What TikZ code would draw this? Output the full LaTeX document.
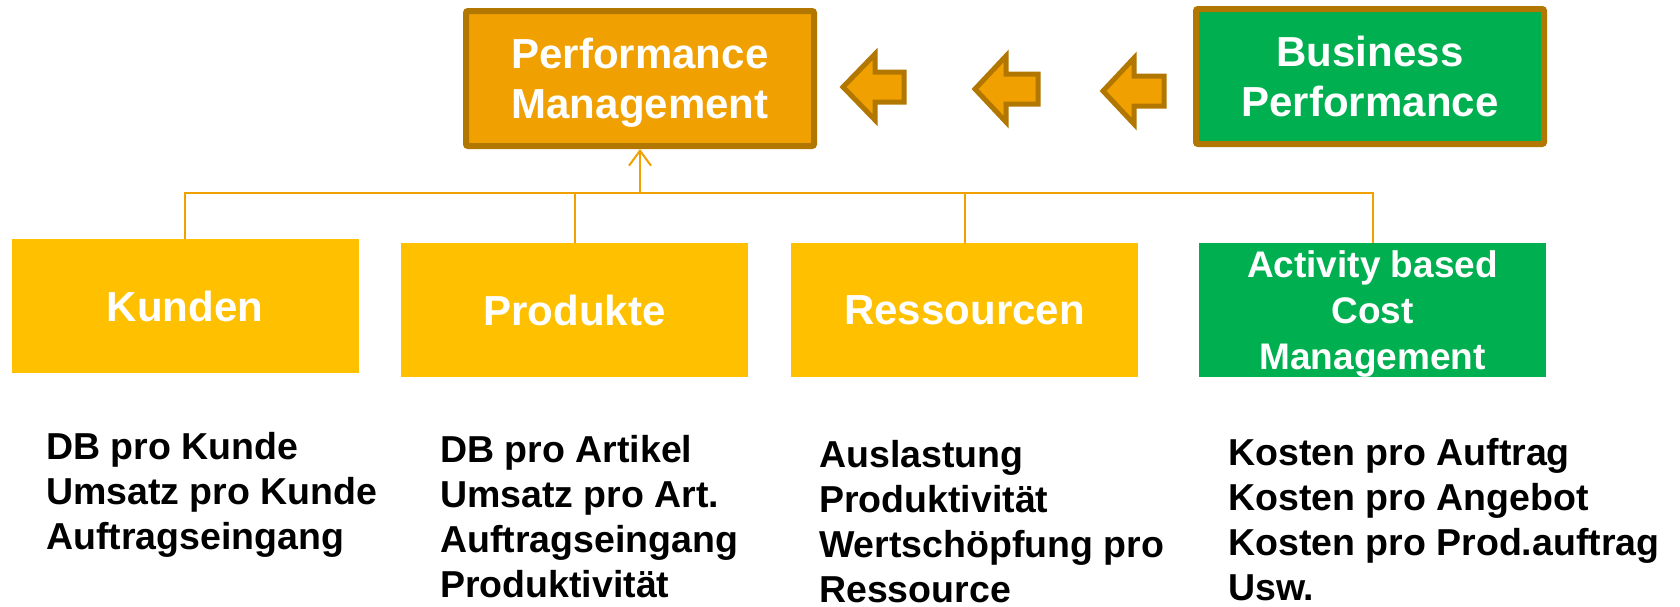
\documentclass[tikz,border=0pt]{standalone}
\usepackage{fontspec}
\setmainfont{Liberation Sans}
\usetikzlibrary{arrows.meta}
\definecolor{pmorange}{RGB}{240,160,0}
\definecolor{pmborder}{RGB}{178,119,0}
\definecolor{boxyellow}{RGB}{255,192,0}
\definecolor{boxgreen}{RGB}{0,176,80}
\tikzset{
  topbox/.style={draw=pmborder, line width=6pt, rounded corners=2pt, minimum width=348pt, minimum height=135pt, inner sep=0pt, text=white, font=\bfseries\fontsize{42}{50}\selectfont, align=center},
  subbox/.style={minimum width=347pt, minimum height=134pt, inner sep=0pt, outer sep=0pt, text=white, align=center},
  conn/.style={draw=pmorange, line width=2pt},
  blockarrow/.style={fill=pmorange, draw=pmborder, line width=5pt, line join=miter},
  kpi/.style={anchor=base west, inner sep=0pt, align=left, text=black, font=\bfseries\fontsize{37.5}{45}\selectfont}
}
\begin{document}
\begin{tikzpicture}[x=1pt,y=-1pt]
\useasboundingbox (0,0) rectangle (1680,606);
% top boxes
\node[topbox, fill=pmorange, text depth=-3pt] (pm) at (640,78.5) {Performance\\Management};
\node[topbox, fill=boxgreen] (bp) at (1370,76.5) {Business\\Performance};
% block arrows
\draw[blockarrow] (843,87) -- (875,54) -- (875,72) -- (904,72) -- (904,102) -- (875,102) -- (875,120) -- cycle;
\draw[blockarrow] (975,89) -- (1006,56) -- (1006,74) -- (1038,74) -- (1038,104) -- (1006,104) -- (1006,122) -- cycle;
\draw[blockarrow] (1103,91) -- (1134,58) -- (1134,76) -- (1164,76) -- (1164,106) -- (1134,106) -- (1134,124) -- cycle;
% sub boxes
\node[subbox, fill=boxyellow, font=\bfseries\fontsize{42}{50}\selectfont] (kunden) at (185,306) {Kunden};
\node[subbox, fill=boxyellow, font=\bfseries\fontsize{42}{50}\selectfont] (produkte) at (574.5,310) {Produkte};
\node[subbox, fill=boxyellow, font=\bfseries\fontsize{42}{50}\selectfont] (ressourcen) at (964.5,310) {Ressourcen};
\node[subbox, fill=boxgreen, font=\bfseries\fontsize{37}{46}\selectfont, text depth=-8pt] (abc) at (1372.5,310) {Activity based\\Cost\\Management};
% connectors
\coordinate (hub) at (640,193);
\draw[conn] (kunden.north) |- (hub);
\draw[conn] (produkte.north) |- (hub);
\draw[conn] (ressourcen.north) |- (hub);
\draw[conn] (abc.north) |- (hub);
\draw[conn, -{Straight Barb[length=15pt,width=22pt]}] (hub) -- (pm.south);
% KPI lists (anchor = baseline of last line)
\node[kpi] (k1) at (46,549) {DB pro Kunde\\Umsatz pro Kunde\\Auftragseingang};
\node[kpi] (k2) at (440,597) {DB pro Artikel\\Umsatz pro Art.\\Auftragseingang\\Produktivität};
\node[kpi] (k3) at (819,602) {Auslastung\\Produktivität\\Wertschöpfung pro\\Ressource};
\node[kpi] (k4) at (1228,600) {Kosten pro Auftrag\\Kosten pro Angebot\\Kosten pro Prod.auftrag\\Usw.};
\end{tikzpicture}
\end{document}
